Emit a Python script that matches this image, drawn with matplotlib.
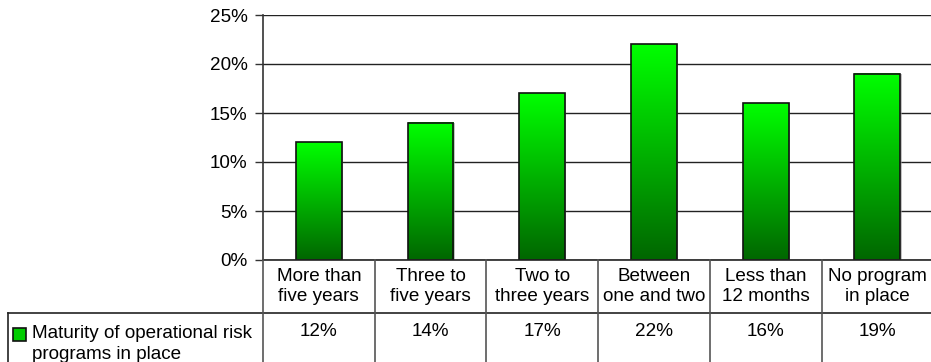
import numpy as np
import matplotlib.pyplot as plt
from matplotlib.colors import LinearSegmentedColormap
from matplotlib.patches import Rectangle
from matplotlib.lines import Line2D
from matplotlib.ticker import PercentFormatter

plt.rcParams['font.family'] = ['Liberation Sans', 'DejaVu Sans']

categories = ["More than\nfive years", "Three to\nfive years", "Two to\nthree years",
              "Between\none and two", "Less than\n12 months", "No program\nin place"]
values = [12, 14, 17, 22, 16, 19]
series_name = "Maturity of operational risk\nprograms in place"

W, H = 931, 362
fig = plt.figure(figsize=(W / 100, H / 100), dpi=100)
FS = 13.6

# plot area in pixels
left, top, bottom = 263, 15, 260
col = 111.7
ax = fig.add_axes([left / W, 1 - bottom / H, (W - left) / W, (bottom - top) / H])

def fx(px):
    return px / W

def fy(py):
    return 1 - py / H

n = len(values)
green = LinearSegmentedColormap.from_list("g", ["#006600", "#00ff00"])
grad = np.linspace(1, 0, 256).reshape(-1, 1)
bw = 0.41
for i, v in enumerate(values):
    x0 = i + 0.5 - bw / 2
    ax.imshow(grad, cmap=green, extent=[x0, x0 + bw, 0, v], aspect='auto', zorder=3,
              interpolation='bilinear')
    ax.add_patch(Rectangle((x0 + 0.012, 0), bw, v, facecolor="#9a9a9a", edgecolor="none",
                           zorder=2.5, alpha=0.6))
    ax.add_patch(Rectangle((x0, 0), bw, v, facecolor="none", edgecolor="#111111",
                           linewidth=1.2, zorder=4))
ax.set_xlim(0, (W - left) / col)
ax.set_ylim(0, 25)

ax.set_yticks(range(0, 26, 5))
ax.yaxis.set_major_formatter(PercentFormatter(decimals=0))
ax.tick_params(axis='y', length=6, width=1, color="#333333", labelsize=FS, pad=5)
ax.set_xticks([])
ax.grid(axis='y', color="#222222", linewidth=1)
ax.set_axisbelow(True)
for s in ["top", "right", "bottom"]:
    ax.spines[s].set_visible(False)
ax.spines["left"].set_color("#333333")
ax.spines["left"].set_linewidth(1.2)

# data table under the axis
row1, row2 = 313, 362
line_kw = dict(color="#222222", linewidth=1.2)
fig.add_artist(Line2D([fx(left), fx(W)], [fy(bottom), fy(bottom)], transform=fig.transFigure, **line_kw))
fig.add_artist(Line2D([fx(8), fx(W)], [fy(row1), fy(row1)], transform=fig.transFigure, **line_kw))
fig.add_artist(Line2D([fx(8), fx(8)], [fy(row1), fy(row2)], transform=fig.transFigure, **line_kw))
for i in range(n + 1):
    xp = left + i * col
    if xp < W:
        fig.add_artist(Line2D([fx(xp), fx(xp)], [fy(bottom), fy(row2)],
                              transform=fig.transFigure, color="#555555", linewidth=1.2))

for i, (c, v) in enumerate(zip(categories, values)):
    xc = left + (i + 0.5) * col
    fig.text(fx(xc), fy((bottom + row1) / 2), c, ha="center", va="center",
             fontsize=FS, linespacing=1.3)
    fig.text(fx(xc), fy(332), f"{v}%", ha="center", va="center", fontsize=FS)

fig.add_artist(Rectangle((fx(13), fy(341)), fx(13), fy(328) - fy(341), transform=fig.transFigure,
                         facecolor="#00cc00", edgecolor="#111111", linewidth=1.2))
fig.text(fx(32), fy(344), series_name, ha="left", va="center", fontsize=FS, linespacing=1.3)

fig.savefig("out.png", dpi=100)
